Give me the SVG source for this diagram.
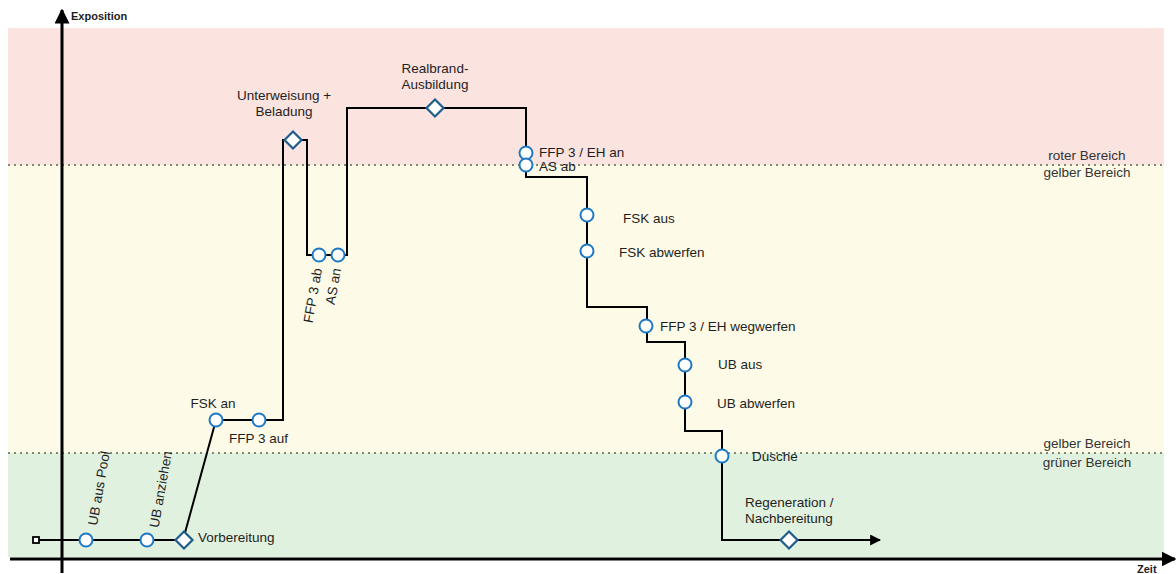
<svg xmlns="http://www.w3.org/2000/svg" width="1176" height="574" viewBox="0 0 1176 574">
  <style>
    text { font-family: "Liberation Sans", Arial, sans-serif; fill: #1e1e1e; }
    .lbl { font-size: 13.5px; }
    .zone { font-size: 13.5px; fill: #333; text-anchor: middle; }
    .axis-t { font-size: 11px; font-weight: bold; }
    .axis { stroke: #000; stroke-width: 3; fill: none; }
    .sep { stroke: #7d8a72; stroke-width: 2; stroke-dasharray: 2 4; fill: none; }
    .flow { stroke: #000; stroke-width: 2; fill: none; }
    .ev { fill: #fff; stroke: #1f78c4; stroke-width: 2; }
    .ms { fill: #fff; stroke: #1f5d8c; stroke-width: 2.2; }
    .start { fill: #fff; stroke: #000; stroke-width: 1.8; }
  </style>
  <defs>
    <marker id="ah-axis" viewBox="0 0 10 10" refX="9" refY="5" markerWidth="5" markerHeight="5" markerUnits="strokeWidth" orient="auto">
      <path d="M0,0 L10,5 L0,10 Z" fill="#000"/>
    </marker>
    <marker id="ah-flow" viewBox="0 0 10 10" refX="9" refY="5" markerWidth="5.5" markerHeight="5.5" markerUnits="strokeWidth" orient="auto">
      <path d="M0,0 L10,5 L0,10 Z" fill="#000"/>
    </marker>
    <path id="diamond" d="M0,-8.5 L8.5,0 L0,8.5 L-8.5,0 Z"/>
  </defs>

  <!-- exposure zones -->
  <g id="zones">
    <rect x="8" y="28" width="1156" height="137" fill="#fbe3e0"/>
    <rect x="8" y="165" width="1156" height="288" fill="#fdfbe7"/>
    <rect x="8" y="453" width="1156" height="104" fill="#e1f1df"/>
    <line class="sep" x1="8" y1="165" x2="1164" y2="165"/>
    <line class="sep" x1="8" y1="453" x2="1164" y2="453"/>
    <text class="zone" x="1087" y="160">roter Bereich</text>
    <text class="zone" x="1087" y="177">gelber Bereich</text>
    <text class="zone" x="1087" y="448">gelber Bereich</text>
    <text class="zone" x="1087" y="467">grüner Bereich</text>
  </g>

  <!-- axes -->
  <g id="axes">
    <line class="axis" x1="62" y1="573" x2="62" y2="10" marker-end="url(#ah-axis)"/>
    <line class="axis" x1="10" y1="559" x2="1175" y2="559" marker-end="url(#ah-axis)"/>
    <text class="axis-t" x="71" y="20">Exposition</text>
    <text class="axis-t" x="1137" y="573">Zeit</text>
  </g>

  <!-- process path -->
  <g id="connectors">
    <path class="flow" d="M36,540 L183,540 L216,420 L283,420 L283,140 L307,140 L307,255 L347,255 L347,108 L526,108 L526,177 L587,177 L587,307 L647,307 L647,342 L685,342 L685,431 L722,431 L722,540 L880,540" marker-end="url(#ah-flow)"/>
  </g>

  <g id="start"><rect class="start" x="33" y="537" width="6" height="6"/></g>

  <g id="ub-aus-pool">
    <circle class="ev" cx="86" cy="540" r="6.5"/>
    <text class="lbl" text-anchor="end" transform="translate(110,452) rotate(-80)">UB aus Pool</text>
  </g>
  <g id="ub-anziehen">
    <circle class="ev" cx="147" cy="540" r="6.5"/>
    <text class="lbl" text-anchor="end" transform="translate(172,452) rotate(-80)">UB anziehen</text>
  </g>
  <g id="vorbereitung">
    <use href="#diamond" class="ms" x="184" y="540"/>
    <text class="lbl" x="198" y="542">Vorbereitung</text>
  </g>
  <g id="fsk-an">
    <circle class="ev" cx="216" cy="420" r="6.5"/>
    <text class="lbl" x="213" y="408" text-anchor="middle">FSK an</text>
  </g>
  <g id="ffp3-auf">
    <circle class="ev" cx="259" cy="420" r="6.5"/>
    <text class="lbl" x="229" y="443">FFP 3 auf</text>
  </g>
  <g id="unterweisung">
    <use href="#diamond" class="ms" x="293" y="140"/>
    <text class="lbl" x="284" y="100" text-anchor="middle">Unterweisung +</text>
    <text class="lbl" x="284" y="116" text-anchor="middle">Beladung</text>
  </g>
  <g id="ffp3-ab">
    <circle class="ev" cx="319" cy="255" r="6.5"/>
    <text class="lbl" text-anchor="end" transform="translate(322,269) rotate(-80)">FFP 3 ab</text>
  </g>
  <g id="as-an">
    <circle class="ev" cx="338" cy="255" r="6.5"/>
    <text class="lbl" text-anchor="end" transform="translate(341,269) rotate(-80)">AS an</text>
  </g>
  <g id="realbrand">
    <use href="#diamond" class="ms" x="435" y="108"/>
    <text class="lbl" x="435" y="73" text-anchor="middle">Realbrand-</text>
    <text class="lbl" x="435" y="89" text-anchor="middle">Ausbildung</text>
  </g>
  <g id="ffp3-eh-an">
    <circle class="ev" cx="526" cy="153" r="6.5"/>
    <text class="lbl" x="539" y="157">FFP 3 / EH an</text>
  </g>
  <g id="as-ab">
    <circle class="ev" cx="526" cy="165" r="6.5"/>
    <text class="lbl" x="539" y="171">AS ab</text>
  </g>
  <g id="fsk-aus">
    <circle class="ev" cx="587" cy="215" r="6.5"/>
    <text class="lbl" x="623" y="223">FSK aus</text>
  </g>
  <g id="fsk-abwerfen">
    <circle class="ev" cx="587" cy="251" r="6.5"/>
    <text class="lbl" x="619" y="257">FSK abwerfen</text>
  </g>
  <g id="ffp3-eh-wegwerfen">
    <circle class="ev" cx="646" cy="326" r="6.5"/>
    <text class="lbl" x="660" y="331">FFP 3 / EH wegwerfen</text>
  </g>
  <g id="ub-aus">
    <circle class="ev" cx="685" cy="365" r="6.5"/>
    <text class="lbl" x="718" y="369">UB aus</text>
  </g>
  <g id="ub-abwerfen">
    <circle class="ev" cx="685" cy="402" r="6.5"/>
    <text class="lbl" x="717" y="408">UB abwerfen</text>
  </g>
  <g id="dusche">
    <circle class="ev" cx="722" cy="456" r="6.5"/>
    <text class="lbl" x="752" y="461">Dusche</text>
  </g>
  <g id="regeneration">
    <use href="#diamond" class="ms" x="789" y="540"/>
    <text class="lbl" x="745" y="507">Regeneration /</text>
    <text class="lbl" x="745" y="523">Nachbereitung</text>
  </g>
</svg>
